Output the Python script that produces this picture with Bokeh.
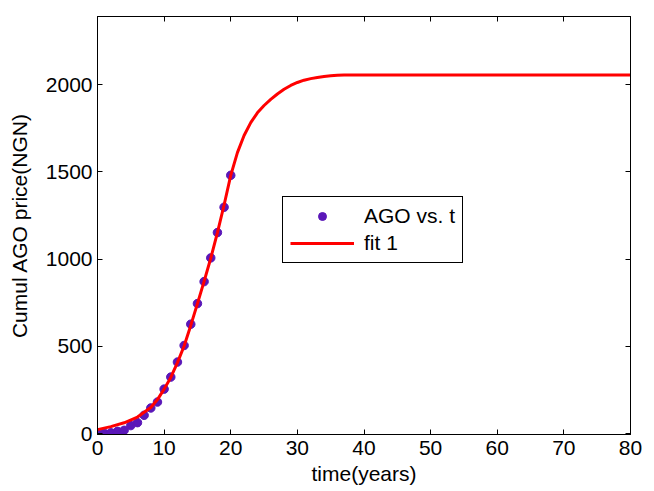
from bokeh.plotting import figure
from bokeh.models import Legend, LegendItem, LinearAxis, FixedTicker, Range1d
from bokeh.embed import file_html
from bokeh.resources import INLINE

# Observed data (AGO vs. t)
t_data = [0, 1, 2, 3, 4, 5, 6, 7, 8, 9, 10, 11, 12, 13, 14, 15, 16, 17, 18, 19, 20]
ago_data = [0, 2, 5, 13, 19, 46, 63, 105, 147, 181, 255, 324, 410, 505, 627, 745, 871, 1007, 1152, 1297, 1480]

# Fitted curve (fit 1)
t_fit = [0, 2, 4, 6, 8, 9, 10, 11, 12, 13, 14, 15, 16, 17, 18, 19, 20, 21, 22, 23, 24, 25,
         26, 27, 28, 29, 30, 31, 32, 33, 34, 35, 36, 37, 80]
ago_fit = [23, 40, 62, 95, 150, 195, 255, 322, 407, 502, 620, 745, 872, 1005, 1152, 1310, 1480, 1610, 1708,
           1782, 1838, 1880, 1915, 1946, 1973, 1995, 2012, 2025, 2034, 2041, 2046, 2050, 2053, 2055, 2055]

x_ticks = [0, 10, 20, 30, 40, 50, 60, 70, 80]
y_ticks = [0, 500, 1000, 1500, 2000]

FONT = "Liberation Sans"
FS = "21px"

p = figure(width=646, height=487, output_backend="svg", toolbar_location=None,
           x_range=Range1d(0, 80), y_range=Range1d(-5, 2390),
           min_border_left=97, min_border_top=16, min_border_right=16, min_border_bottom=49)
p.background_fill_color = "white"
p.border_fill_color = "white"
p.outline_line_color = "black"
p.outline_line_width = 1
p.grid.visible = False

for ax in (p.xaxis[0], p.yaxis[0]):
    ax.major_tick_in = 5
    ax.major_tick_out = 0
    ax.minor_tick_line_color = None
    ax.axis_line_color = "black"
    ax.major_tick_line_color = "black"
    ax.major_label_text_font = FONT
    ax.major_label_text_font_size = FS
    ax.major_label_text_color = "black"
    ax.axis_label_text_font = FONT
    ax.axis_label_text_font_size = FS
    ax.axis_label_text_font_style = "normal"
    ax.axis_label_text_color = "black"

p.xaxis.ticker = FixedTicker(ticks=x_ticks)
p.yaxis.ticker = FixedTicker(ticks=y_ticks)
p.xaxis.axis_label = "time(years)"
p.yaxis.axis_label = "Cumul AGO price(NGN)"
p.xaxis.major_label_standoff = 6
p.yaxis.major_label_standoff = 5
p.xaxis.axis_label_standoff = 4
p.yaxis.axis_label_standoff = 12

# mirrored inward ticks on top and right
top = LinearAxis(ticker=FixedTicker(ticks=x_ticks), major_label_text_font_size="0px",
                 major_tick_in=5, major_tick_out=0, minor_tick_line_color=None,
                 axis_line_color="black", major_label_text_color=None)
right = LinearAxis(ticker=FixedTicker(ticks=y_ticks), major_label_text_font_size="0px",
                   major_tick_in=5, major_tick_out=0, minor_tick_line_color=None,
                   axis_line_color="black", major_label_text_color=None)
p.add_layout(top, "above")
p.add_layout(right, "right")

pts = p.scatter(t_data, ago_data, size=8.5, color="#5a17b8", marker="circle")
ln = p.line(t_fit, ago_fit, line_color="#ff0000", line_width=3)

legend = Legend(items=[LegendItem(label="AGO vs. t", renderers=[pts]),
                       LegendItem(label="fit 1", renderers=[ln])],
                location=(185, 171), orientation="vertical")
legend.label_text_font = FONT
legend.label_text_font_size = FS
legend.label_text_color = "black"
legend.border_line_color = "black"
legend.border_line_alpha = 1
legend.border_line_width = 1.5
legend.background_fill_color = "white"
legend.background_fill_alpha = 1
legend.padding = 7
legend.spacing = 3
legend.glyph_width = 64
legend.glyph_height = 20
legend.label_height = 20
legend.label_standoff = 10
legend.margin = 0
p.add_layout(legend, "center")

open("out.html", "w").write(file_html(p, INLINE))
